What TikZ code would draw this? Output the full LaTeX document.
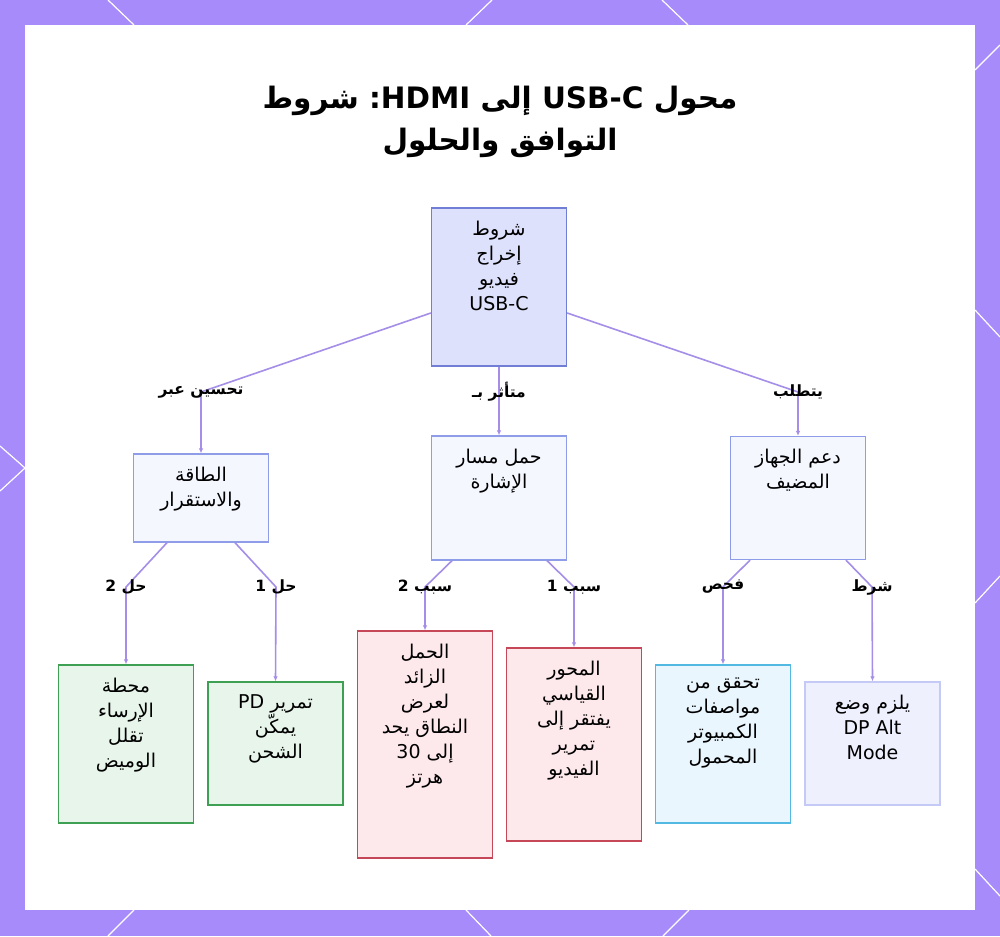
\documentclass[tikz,border=0pt]{standalone}
\usepackage{fontspec}
\setmainfont{DejaVu Sans}
\newfontfamily\arabicfont[Script=Arabic]{DejaVu Sans}
\TeXXeTstate=1
\usepackage{tikz}
\usetikzlibrary{arrows.meta, positioning}

\definecolor{bgviolet}{RGB}{167,139,250}
\definecolor{edgeviolet}{RGB}{165,142,232}
\definecolor{hubline}{RGB}{112,126,214}
\definecolor{hubfill}{RGB}{221,225,251}
\definecolor{branchline}{RGB}{143,157,232}
\definecolor{branchfill}{RGB}{245,247,255}
\definecolor{fixline}{RGB}{62,160,82}
\definecolor{fixfill}{RGB}{231,245,235}
\definecolor{causeline}{RGB}{198,72,88}
\definecolor{causefill}{RGB}{253,232,236}
\definecolor{checkline}{RGB}{82,186,226}
\definecolor{checkfill}{RGB}{234,246,253}
\definecolor{needline}{RGB}{196,201,245}
\definecolor{needfill}{RGB}{238,240,253}
\newcommand{\rl}[1]{\beginR#1\endR}
\newcommand{\lr}[1]{\beginL#1\endL{}}
\newcommand{\boxtext}[2]{\begin{minipage}[c][#1][t]{135pt}\centering\vspace*{13pt}#2\end{minipage}}

\begin{document}
\begin{tikzpicture}[x=1pt, y=-1pt,
        hub/.style={rectangle, draw=hubline, fill=hubfill, line width=1.3pt, inner sep=0pt, font=\arabicfont\fontsize{19}{25}\selectfont},
        branch/.style={rectangle, draw=branchline, fill=branchfill, line width=1.3pt, inner sep=0pt, font=\arabicfont\fontsize{19}{25}\selectfont},
        fixbox/.style={rectangle, draw=fixline, fill=fixfill, line width=1.3pt, inner sep=0pt, font=\arabicfont\fontsize{19}{25}\selectfont},
        causebox/.style={rectangle, draw=causeline, fill=causefill, line width=1.3pt, inner sep=0pt, font=\arabicfont\fontsize{19}{25}\selectfont},
        checkbox/.style={rectangle, draw=checkline, fill=checkfill, line width=1.3pt, inner sep=0pt, font=\arabicfont\fontsize{19}{25}\selectfont},
        needbox/.style={rectangle, draw=needline, fill=needfill, line width=1.3pt, inner sep=0pt, font=\arabicfont\fontsize{19}{25}\selectfont},
        elabel/.style={inner sep=1pt, font=\arabicfont\bfseries\fontsize{15.5}{18}\selectfont},
        arrow/.style={draw=edgeviolet, line width=1.6pt, -{Latex[length=5pt, width=4.5pt]}},
        deco/.style={draw=white, line width=1.2pt}
    ]

        % Frame and card
        \fill [bgviolet] (0,0) rectangle (1000,936);
        \useasboundingbox (0,0) rectangle (1000,936);
        \draw [deco] (108,0) -- (134,25);
        \draw [deco] (492,0) -- (466,25);
        \draw [deco] (662,0) -- (688,25);
        \draw [deco] (1000,45) -- (975,70);
        \draw [deco] (975,310) -- (1000,337);
        \draw [deco] (975,603) -- (1000,576);
        \draw [deco] (975,869) -- (1000,896);
        \draw [deco] (0,446) -- (25,468) -- (0,491);
        \draw [deco] (134,910) -- (108,936);
        \draw [deco] (466,910) -- (491,936);
        \draw [deco] (689,910) -- (663,936);
        \fill [white] (25,25) rectangle (975,910);

        % Title
        \node [font=\arabicfont\bfseries\fontsize{29.5}{42}\selectfont, align=center] (title) at (500,122)
            {\rl{محول \lr{USB-C} إلى \lr{HDMI}: شروط}\\\rl{التوافق والحلول}};

        % Level 0
        \node [hub] (req) at (499,287) {\boxtext{158pt}{\rl{شروط}\\\rl{إخراج}\\\rl{فيديو}\\\lr{USB-C}}};

        % Level 1
        \node [branch] (power) at (201,498) {\boxtext{88pt}{\rl{الطاقة}\\\rl{والاستقرار}}};
        \node [branch] (signal) at (499,498) {\boxtext{124pt}{\rl{حمل مسار}\\\rl{الإشارة}}};
        \node [branch] (host) at (798,498) {\boxtext{123pt}{\rl{دعم الجهاز}\\\rl{المضيف}}};

        \draw [arrow] ([yshift=-26pt]req.west) -- (201,392) coordinate (kpower) -- (power.north);
        \draw [arrow] (req.south) -- (signal.north);
        \draw [arrow] ([yshift=-26pt]req.east) -- (798,392) coordinate (khost) -- (host.north);

        \node [elabel] (lpower) at (kpower) {\rl{تحسين عبر}};
        \node [elabel] (lsignal) at (499,392) {\rl{متأثر بـ}};
        \node [elabel] (lhost) at (khost) {\rl{يتطلب}};

        % Level 2
        \node [fixbox] (dock) at (126,744) {\boxtext{158pt}{\rl{محطة}\\\rl{الإرساء}\\\rl{تقلل}\\\rl{الوميض}}};
        \node [fixbox] (pdpass) at (275.5,743.5) {\boxtext{123pt}{\rl{تمرير \lr{PD}}\\\rl{يمكّن}\\\rl{الشحن}}};
        \node [causebox] (overload) at (425,744.5) {\boxtext{227pt}{\rl{الحمل}\\\rl{الزائد}\\\rl{لعرض}\\\rl{النطاق يحد}\\\rl{إلى 30}\\\rl{هرتز}}};
        \node [causebox] (plainhub) at (574,744.5) {\boxtext{193pt}{\rl{المحور}\\\rl{القياسي}\\\rl{يفتقر إلى}\\\rl{تمرير}\\\rl{الفيديو}}};
        \node [checkbox] (specs) at (723,744) {\boxtext{158pt}{\rl{تحقق من}\\\rl{مواصفات}\\\rl{الكمبيوتر}\\\rl{المحمول}}};
        \node [needbox] (altmode) at (872.5,743.5) {\boxtext{123pt}{\rl{يلزم وضع}\\\lr{DP Alt}\\\lr{Mode}}};

        \draw [arrow] ([xshift=-34pt]power.south) -- (126,587) coordinate (kdock) -- (dock.north);
        \draw [arrow] ([xshift=34pt]power.south) -- (276,587) coordinate (kpd) -- (pdpass.north);
        \draw [arrow] ([xshift=-47pt]signal.south) -- (425,587) coordinate (koverload) -- (overload.north);
        \draw [arrow] ([xshift=48pt]signal.south) -- (574,587) coordinate (kplain) -- (plainhub.north);
        \draw [arrow] ([xshift=-48pt]host.south) -- (723,587) coordinate (kspecs) -- (specs.north);
        \draw [arrow] ([xshift=48pt]host.south) -- (872,587) coordinate (kalt) -- (altmode.north);

        \node [elabel] (ldock) at (kdock) {\rl{حل 2}};
        \node [elabel] (lpd) at (kpd) {\rl{حل 1}};
        \node [elabel] (loverload) at (koverload) {\rl{سبب 2}};
        \node [elabel] (lplain) at (kplain) {\rl{سبب 1}};
        \node [elabel] (lspecs) at (kspecs) {\rl{فحص}};
        \node [elabel] (lalt) at (kalt) {\rl{شرط}};

    \end{tikzpicture}
\end{document}
